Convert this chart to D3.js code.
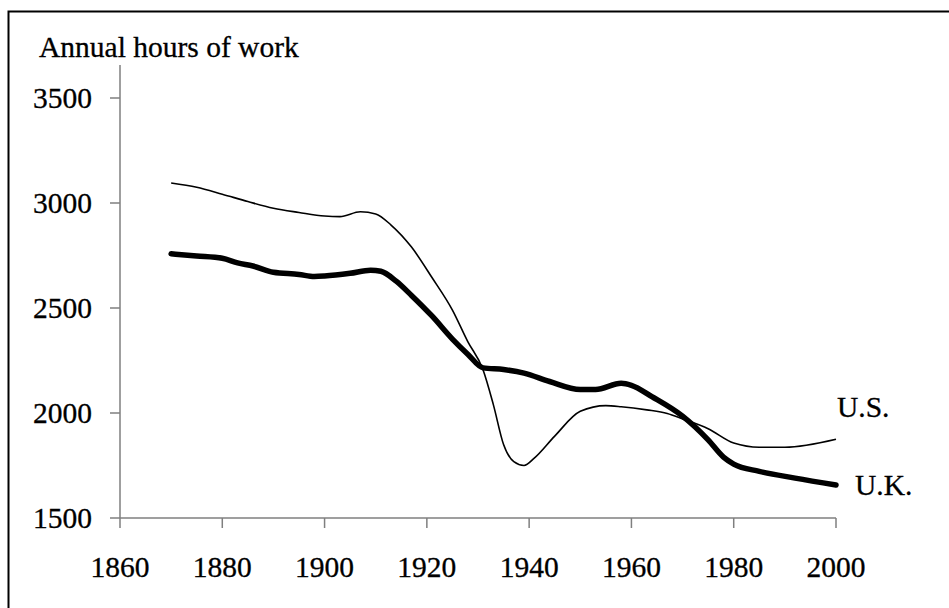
<!DOCTYPE html>
<html>
<head>
<meta charset="utf-8">
<script src="https://cdn.jsdelivr.net/npm/d3@7"></script>
<style>
  html, body { margin: 0; padding: 0; background: #fff; }
  svg { display: block; }
  svg text { font-family: "Liberation Serif", "Times New Roman", Times, "DejaVu Serif", serif; }
</style>
</head>
<body>
<svg id="chart" width="949" height="608"></svg>
<script>
// ---- data ----
const usYears = [1870, 1875, 1880, 1885, 1890, 1895, 1900, 1903, 1907, 1910, 1913, 1917, 1921, 1925, 1928, 1931, 1933, 1935, 1937, 1939, 1941, 1945, 1950, 1955, 1958, 1963, 1967, 1970, 1975, 1980, 1985, 1990, 2000];
const usHours = [3095, 3075, 3042, 3007, 2975, 2955, 2938, 2935, 2958, 2948, 2895, 2790, 2645, 2490, 2340, 2205, 2040, 1850, 1768, 1750, 1785, 1890, 2008, 2035, 2030, 2015, 1998, 1972, 1925, 1857, 1837, 1837, 1875];
const ukYears = [1870, 1875, 1880, 1883, 1886, 1890, 1895, 1898, 1900, 1905, 1909, 1911, 1914, 1917, 1921, 1925, 1928, 1931, 1935, 1939, 1944, 1950, 1953, 1958, 1960, 1964, 1970, 1975, 1978, 1980, 1985, 1992, 2000];
const ukHours = [2758, 2748, 2737, 2715, 2700, 2670, 2660, 2650, 2652, 2665, 2680, 2675, 2628, 2560, 2462, 2352, 2280, 2215, 2207, 2190, 2150, 2112, 2112, 2142, 2132, 2078, 1985, 1872, 1790, 1757, 1722, 1690, 1657];
const xTicks = [1860, 1880, 1900, 1920, 1940, 1960, 1980, 2000];
const yTicks = [1500, 2000, 2500, 3000, 3500];
const yTitle = "Annual hours of work";
const seriesLabels = ["U.S.", "U.K."];

// ---- layout ----
const FONT = '"Liberation Serif", "Times New Roman", Times, "DejaVu Serif", serif';
const svg = d3.select("#chart");
const x = d3.scaleLinear().domain([1860, 2000]).range([120, 836]);
const y = d3.scaleLinear().domain([1500, 3500]).range([518, 98]);
const axisColor = "#7f7f7f";
const fontSize = 29.5;

function txt(sel) {
  return sel.style("font-family", FONT).style("font-size", fontSize + "px")
    .attr("fill", "#000").attr("stroke", "#000").attr("stroke-width", 0.3);
}

// frame (top and left edges visible)
svg.append("rect")
  .attr("x", 8.5).attr("y", 11.5)
  .attr("width", 960).attr("height", 620)
  .attr("fill", "none").attr("stroke", "#000").attr("stroke-width", 2);

// y axis
const yAxis = svg.append("g");
yAxis.append("line")
  .attr("x1", x(1860)).attr("x2", x(1860))
  .attr("y1", y(1500)).attr("y2", y(3500) - 33)
  .attr("stroke", axisColor).attr("stroke-width", 1.5);
yAxis.selectAll("line.tick").data(yTicks).join("line")
  .attr("class", "tick")
  .attr("x1", x(1860) - 10).attr("x2", x(1860))
  .attr("y1", d => y(d)).attr("y2", d => y(d))
  .attr("stroke", axisColor).attr("stroke-width", 1.5);
txt(yAxis.selectAll("text").data(yTicks).join("text"))
  .attr("x", x(1860) - 28)
  .attr("y", d => y(d))
  .attr("dy", "0.34em")
  .attr("text-anchor", "end")
  .text(d => d);

// x axis
const xAxis = svg.append("g");
xAxis.append("line")
  .attr("x1", x(1860)).attr("x2", x(2000))
  .attr("y1", y(1500)).attr("y2", y(1500))
  .attr("stroke", axisColor).attr("stroke-width", 1.5);
xAxis.selectAll("line.tick").data(xTicks).join("line")
  .attr("class", "tick")
  .attr("x1", d => x(d)).attr("x2", d => x(d))
  .attr("y1", y(1500)).attr("y2", y(1500) + 10)
  .attr("stroke", axisColor).attr("stroke-width", 1.5);
txt(xAxis.selectAll("text").data(xTicks).join("text"))
  .attr("x", d => x(d))
  .attr("y", y(1500) + 59)
  .attr("text-anchor", "middle")
  .text(d => d);

// y title
txt(svg.append("text"))
  .attr("x", 39).attr("y", 57)
  .text(yTitle);

// lines
const line = d3.line()
  .x(d => x(d[0]))
  .y(d => y(d[1]))
  .curve(d3.curveMonotoneX);

const usData = usYears.map((yr, i) => [yr, usHours[i]]);
const ukData = ukYears.map((yr, i) => [yr, ukHours[i]]);

svg.append("path")
  .attr("d", line(usData))
  .attr("fill", "none").attr("stroke", "#000")
  .attr("stroke-width", 1.6).attr("stroke-linejoin", "round");

svg.append("path")
  .attr("d", line(ukData))
  .attr("fill", "none").attr("stroke", "#000")
  .attr("stroke-width", 5.5).attr("stroke-linejoin", "round").attr("stroke-linecap", "round");

// series labels
txt(svg.append("text"))
  .attr("x", x(2000) + 1).attr("y", y(usHours[usHours.length - 1]) - 22)
  .text(seriesLabels[0]);
txt(svg.append("text"))
  .attr("x", x(2000) + 19).attr("y", y(ukHours[ukHours.length - 1]) + 10)
  .text(seriesLabels[1]);
</script>
</body>
</html>
